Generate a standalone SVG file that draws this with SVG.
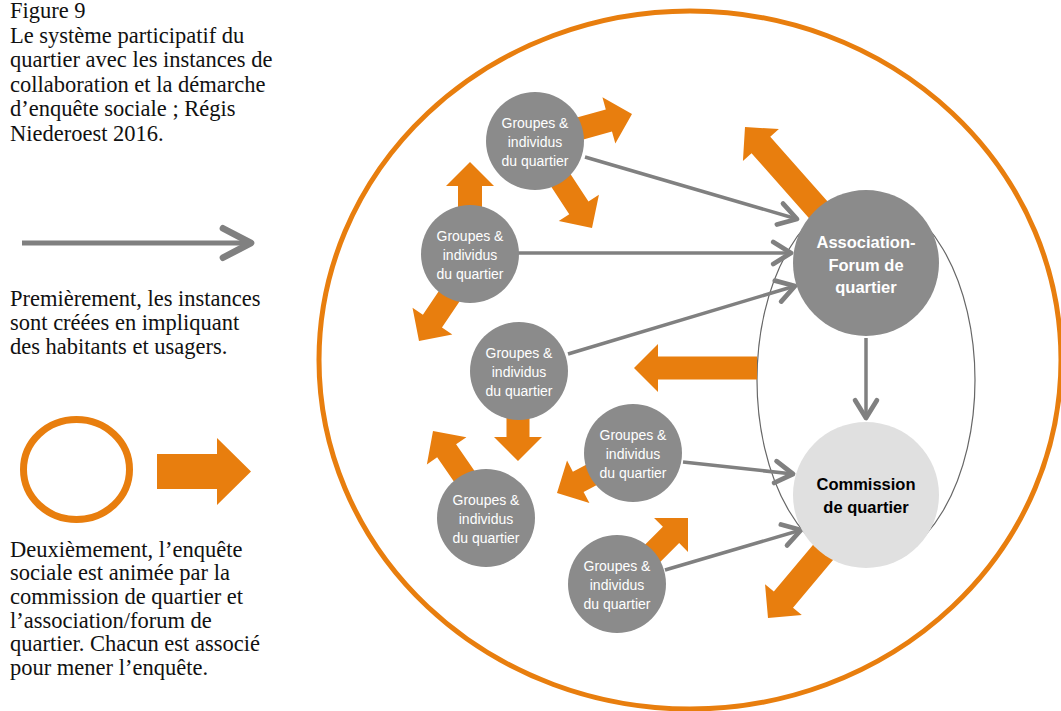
<svg xmlns="http://www.w3.org/2000/svg" width="1061" height="711" viewBox="0 0 1061 711">
<style>
.cap{font-family:"Liberation Serif","Times New Roman",serif;font-size:22.5px;fill:#111}
.org{fill:#e87e0e}
.con{stroke:#808080;stroke-width:3.5;fill:none}
.grp{fill:#8b8b8b}
.gt{font-family:"Liberation Sans",Arial,sans-serif;font-size:14px;fill:#fff;text-anchor:middle}
.bt{font-family:"Liberation Sans",Arial,sans-serif;font-size:16.5px;font-weight:bold;text-anchor:middle}
</style>
<defs>
<marker id="chev" markerUnits="userSpaceOnUse" orient="auto" refX="0" refY="0" markerWidth="30" markerHeight="30" viewBox="-16 -11 18 22" overflow="visible">
<path d="M-13,-8 L0,0 L-13,8" stroke="#808080" stroke-width="3.5" fill="none" stroke-linecap="round" stroke-linejoin="round"/>
</marker>
<marker id="chevL" markerUnits="userSpaceOnUse" orient="auto" refX="0" refY="0" markerWidth="40" markerHeight="40" viewBox="-26 -14 30 28" overflow="visible">
<path d="M-21,-11 L0,0 L-21,11" stroke="#808080" stroke-width="5" fill="none" stroke-linecap="round" stroke-linejoin="round"/>
</marker>
</defs>
<rect width="1061" height="711" fill="#fff"/>

<g id="caption">
<text class="cap" x="10" y="18">Figure 9</text>
<text class="cap" x="10" y="43">Le système participatif du</text>
<text class="cap" x="10" y="67">quartier avec les instances de</text>
<text class="cap" x="10" y="92">collaboration et la démarche</text>
<text class="cap" x="10" y="116">d’enquête sociale ; Régis</text>
<text class="cap" x="10" y="141">Niederoest 2016.</text>
</g>

<g id="legend-line">
<line x1="22" y1="243" x2="251" y2="243" stroke="#808080" stroke-width="5" marker-end="url(#chevL)"/>
<text class="cap" x="10" y="306">Premièrement, les instances</text>
<text class="cap" x="10" y="330">sont créées en impliquant</text>
<text class="cap" x="10" y="354">des habitants et usagers.</text>
</g>

<g id="legend-orange">
<ellipse cx="76.5" cy="469.5" rx="53" ry="50" fill="none" stroke="#e87e0e" stroke-width="7"/>
<polygon class="org" points="157,454 217,454 217,438 251,471.5 217,505 217,489 157,489"/>
<text class="cap" x="10" y="557">Deuxièmement, l’enquête</text>
<text class="cap" x="10" y="580">sociale est animée par la</text>
<text class="cap" x="10" y="604">commission de quartier et</text>
<text class="cap" x="10" y="628">l’association/forum de</text>
<text class="cap" x="10" y="651">quartier. Chacun est associé</text>
<text class="cap" x="10" y="675">pour mener l’enquête.</text>
</g>

<g id="outer-circle">
<ellipse cx="690" cy="360" rx="371" ry="349" fill="none" stroke="#e87e0e" stroke-width="5"/>
</g>
<g id="inner-ellipse">
<ellipse cx="866" cy="380" rx="109" ry="185" fill="none" stroke="#666" stroke-width="1.2"/>
</g>

<g id="orange-arrows">
<polygon class="org" transform="translate(632,114) rotate(-15.6)" points="0,0 -24,-24 -24,-11.5 -101,-11.5 -101,11.5 -24,11.5 -24,24"/>
<polygon class="org" transform="translate(592,228) rotate(56.8)" points="0,0 -24,-24 -24,-11.5 -104,-11.5 -104,11.5 -24,11.5 -24,24"/>
<polygon class="org" transform="translate(470,162) rotate(-90)" points="0,0 -24,-24 -24,-12 -92,-12 -92,12 -24,12 -24,24"/>
<polygon class="org" transform="translate(419,341) rotate(124)" points="0,0 -24,-24 -24,-11.5 -100,-11.5 -100,11.5 -24,11.5 -24,24"/>
<polygon class="org" transform="translate(745,127) rotate(-131.5)" points="0,0 -24,-24 -24,-12.5 -182,-12.5 -182,12.5 -24,12.5 -24,24"/>
<polygon class="org" transform="translate(634,368) rotate(180)" points="0,0 -24,-24 -24,-11.5 -123,-11.5 -123,11.5 -24,11.5 -24,24"/>
<polygon class="org" transform="translate(518,461) rotate(90)" points="0,0 -24,-24 -24,-11.5 -90,-11.5 -90,11.5 -24,11.5 -24,24"/>
<polygon class="org" transform="translate(433,431) rotate(-124.6)" points="0,0 -24,-24 -24,-11.5 -100,-11.5 -100,11.5 -24,11.5 -24,24"/>
<polygon class="org" transform="translate(557,493) rotate(152.2)" points="0,0 -24,-24 -24,-11.5 -86,-11.5 -86,11.5 -24,11.5 -24,24"/>
<polygon class="org" transform="translate(688,518) rotate(-45)" points="0,0 -24,-24 -24,-11.5 -97,-11.5 -97,11.5 -24,11.5 -24,24"/>
<polygon class="org" transform="translate(768,618) rotate(130)" points="0,0 -24,-24 -24,-12.5 -155,-12.5 -155,12.5 -24,12.5 -24,24"/>
</g>

<g id="connectors">
<line class="con" x1="585" y1="157" x2="797" y2="219" marker-end="url(#chev)"/>
<line class="con" x1="518" y1="253" x2="791" y2="253" marker-end="url(#chev)"/>
<line class="con" x1="568" y1="354" x2="795" y2="286" marker-end="url(#chev)"/>
<line class="con" x1="683" y1="462" x2="793" y2="474" marker-end="url(#chev)"/>
<line class="con" x1="665" y1="570" x2="801" y2="530" marker-end="url(#chev)"/>
<line class="con" x1="866" y1="338" x2="866" y2="418" marker-end="url(#chev)"/>
</g>

<g id="groupe-1">
<circle class="grp" cx="535" cy="141" r="49"/>
<text class="gt" x="535" y="128">Groupes &amp;</text>
<text class="gt" x="535" y="147">individus</text>
<text class="gt" x="535" y="166">du quartier</text>
</g>
<g id="groupe-2">
<circle class="grp" cx="470" cy="254" r="49"/>
<text class="gt" x="470" y="241">Groupes &amp;</text>
<text class="gt" x="470" y="260">individus</text>
<text class="gt" x="470" y="279">du quartier</text>
</g>
<g id="groupe-3">
<circle class="grp" cx="519" cy="371" r="49"/>
<text class="gt" x="519" y="358">Groupes &amp;</text>
<text class="gt" x="519" y="377">individus</text>
<text class="gt" x="519" y="396">du quartier</text>
</g>
<g id="groupe-4">
<circle class="grp" cx="633" cy="453" r="49"/>
<text class="gt" x="633" y="440">Groupes &amp;</text>
<text class="gt" x="633" y="459">individus</text>
<text class="gt" x="633" y="478">du quartier</text>
</g>
<g id="groupe-5">
<circle class="grp" cx="486" cy="518" r="49"/>
<text class="gt" x="486" y="505">Groupes &amp;</text>
<text class="gt" x="486" y="524">individus</text>
<text class="gt" x="486" y="543">du quartier</text>
</g>
<g id="groupe-6">
<circle class="grp" cx="617" cy="584" r="49"/>
<text class="gt" x="617" y="571">Groupes &amp;</text>
<text class="gt" x="617" y="590">individus</text>
<text class="gt" x="617" y="609">du quartier</text>
</g>

<g id="association">
<circle cx="866" cy="263" r="73" fill="#8b8b8b"/>
<text class="bt" x="866" y="248" fill="#fff">Association-</text>
<text class="bt" x="866" y="271" fill="#fff">Forum de</text>
<text class="bt" x="866" y="293" fill="#fff">quartier</text>
</g>
<g id="commission">
<circle cx="866" cy="495" r="73" fill="#e0e0e0"/>
<text class="bt" x="866" y="490" fill="#000">Commission</text>
<text class="bt" x="866" y="513" fill="#000">de quartier</text>
</g>
</svg>
